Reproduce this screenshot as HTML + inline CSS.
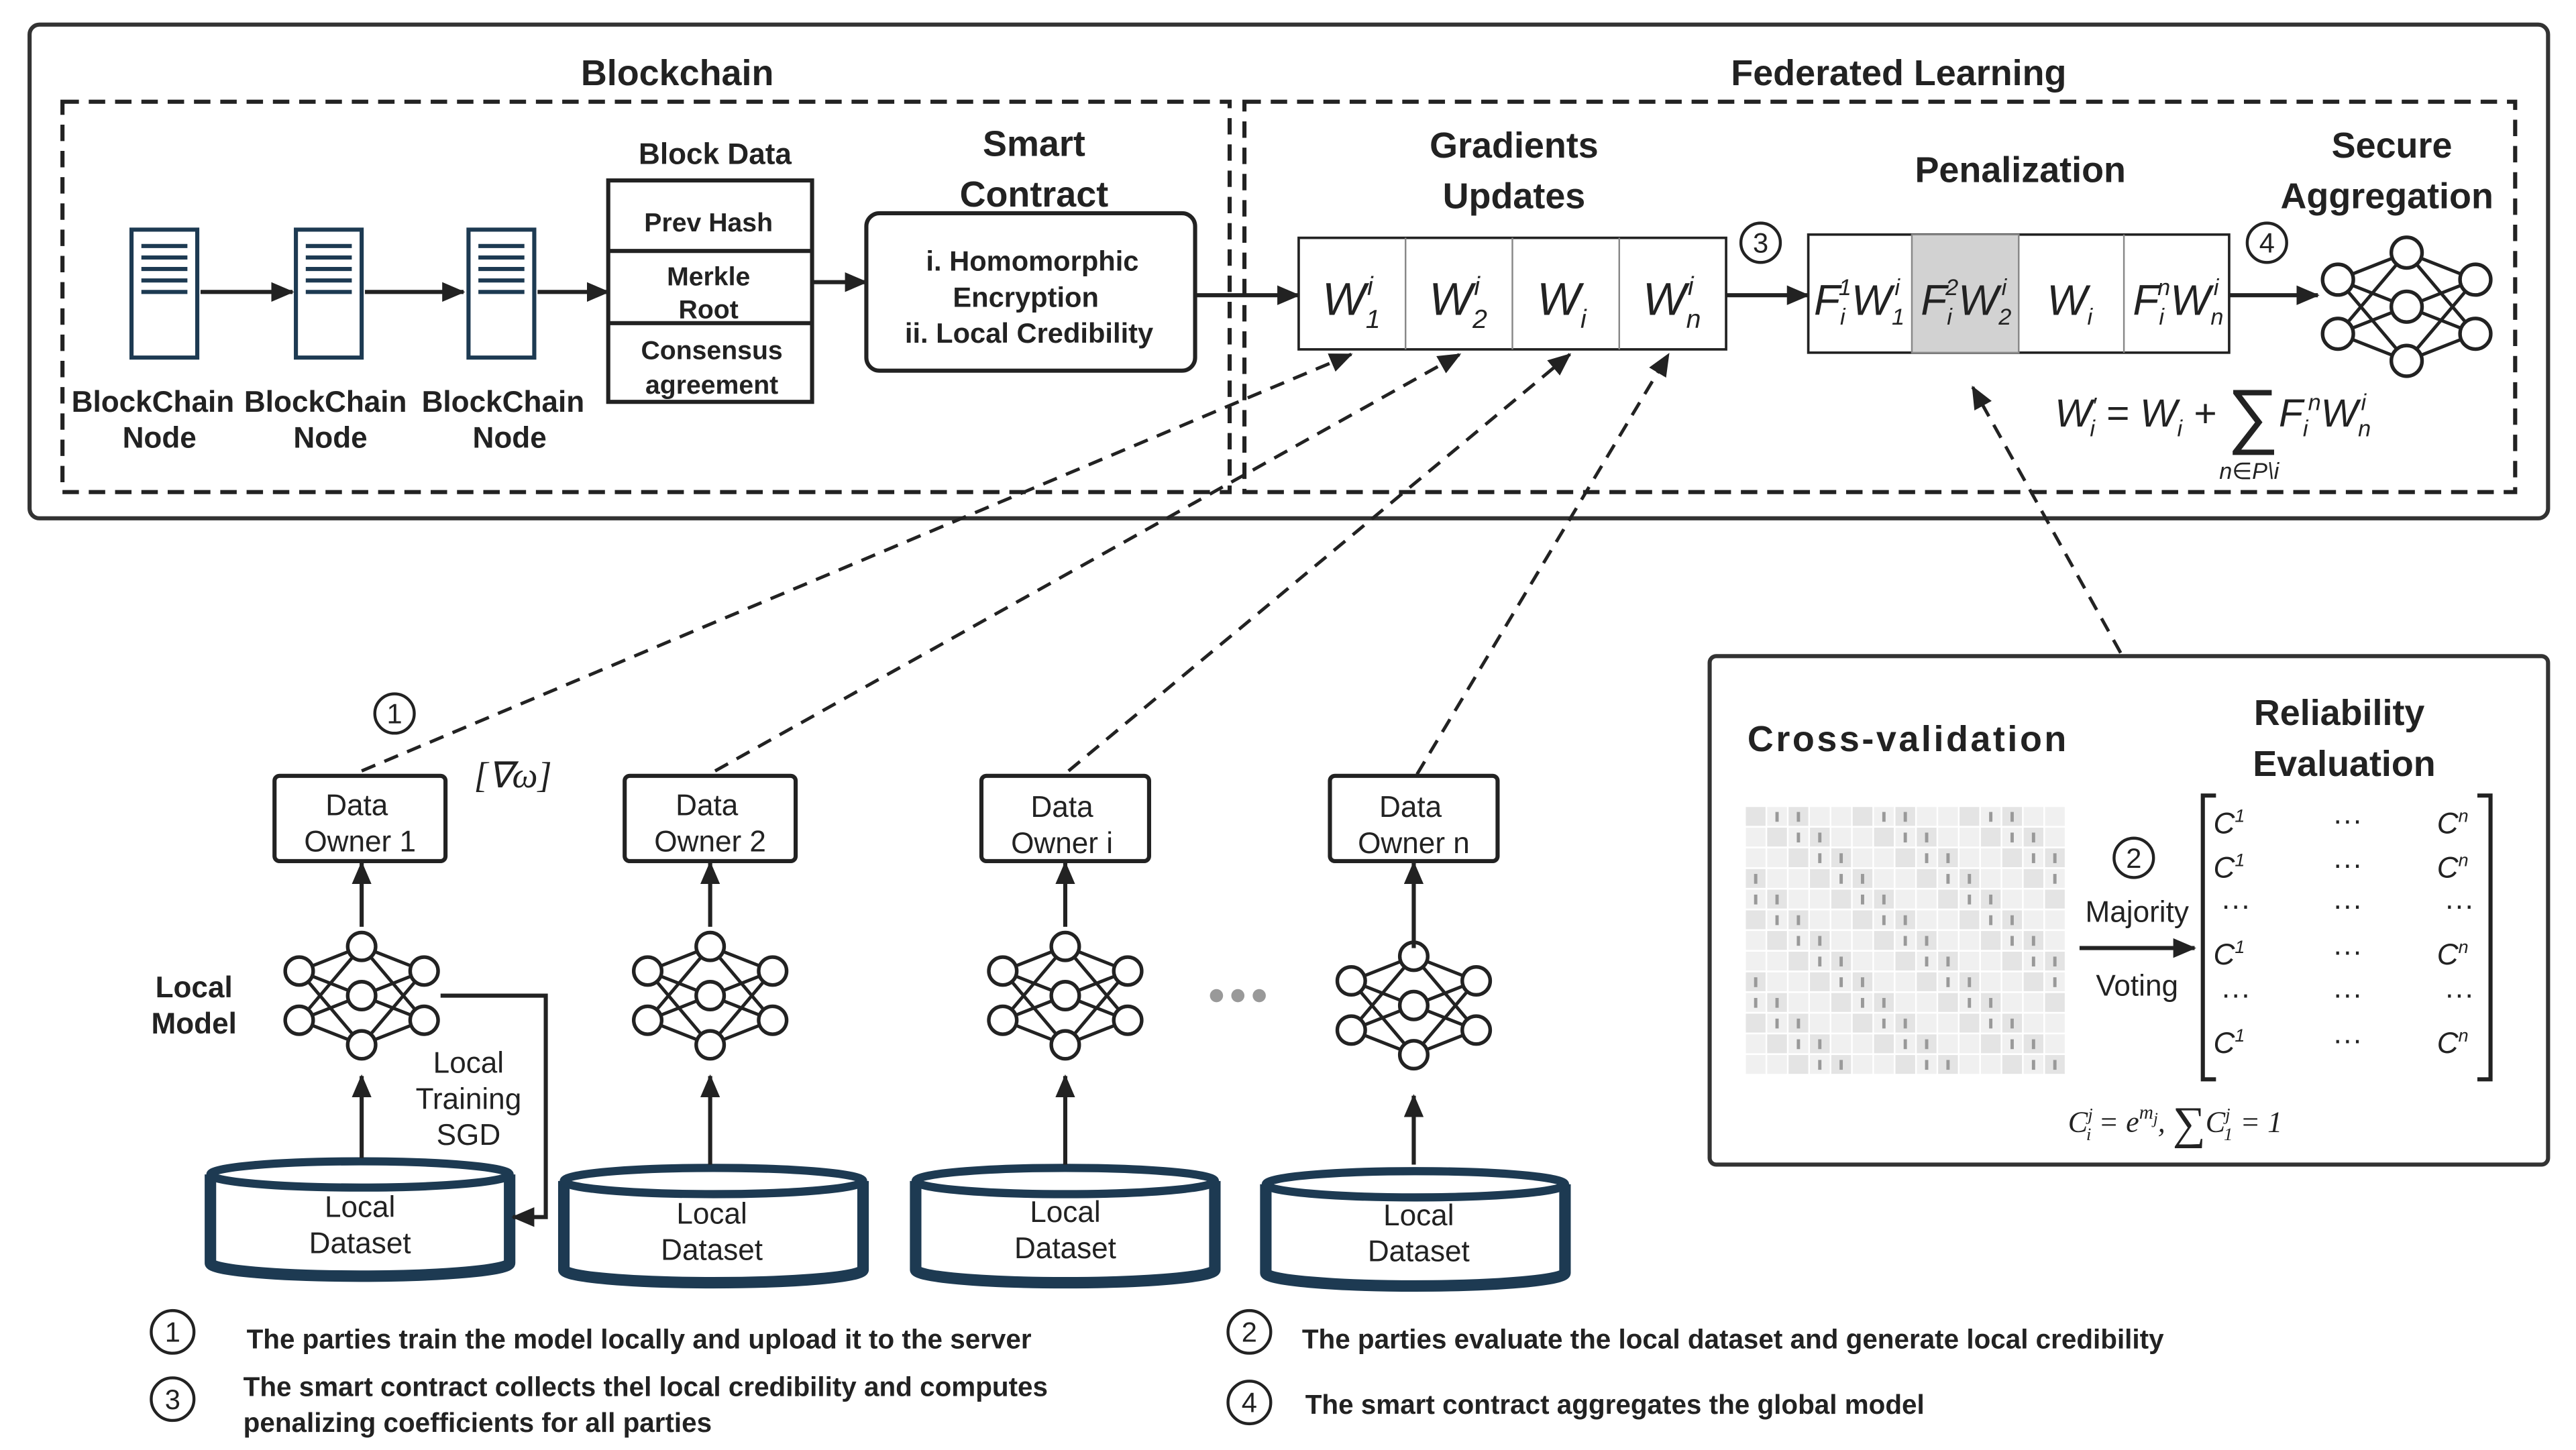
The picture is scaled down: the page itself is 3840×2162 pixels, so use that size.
<!DOCTYPE html>
<html><head><meta charset="utf-8"><style>
html,body{margin:0;padding:0;background:#fff}
svg{display:block}
text{font-family:"Liberation Sans","DejaVu Sans",sans-serif;fill:#222}
.b{font-weight:bold}
.m{font-family:"Liberation Serif",serif;font-style:italic}
</style></head><body>
<svg id="s" width="3840" height="2162" viewBox="0 0 1567 884" preserveAspectRatio="none" xmlns="http://www.w3.org/2000/svg">
<defs><marker id="A" markerWidth="14" markerHeight="12" refX="13" refY="6" orient="auto" markerUnits="userSpaceOnUse"><path d="M0,0 L14,6 L0,12 z" fill="#222"/></marker></defs>
<rect x="18" y="15" width="1532" height="301" rx="6" fill="none" stroke="#333" stroke-width="2.5"/>
<rect x="38" y="62" width="710" height="238" fill="none" stroke="#222" stroke-width="2.5" stroke-dasharray="10,6"/>
<rect x="757" y="62" width="773" height="238" fill="none" stroke="#222" stroke-width="2.5" stroke-dasharray="10,6"/>
<text x="412" y="52" font-size="22" class="b" text-anchor="middle">Blockchain</text>
<text x="1155" y="52" font-size="22" class="b" text-anchor="middle">Federated Learning</text>
<g id="srv"></g>
<g stroke="#222" stroke-width="2.5" fill="none">
<line x1="122" y1="178" x2="178" y2="178" marker-end="url(#A)"/>
<line x1="222" y1="178" x2="282" y2="178" marker-end="url(#A)"/>
<line x1="327" y1="178" x2="370" y2="178" marker-end="url(#A)"/>
<line x1="494" y1="172" x2="527" y2="172" marker-end="url(#A)"/>
<line x1="727" y1="180" x2="790" y2="180" marker-end="url(#A)"/>
<line x1="1050" y1="180" x2="1100" y2="180" marker-end="url(#A)"/>
<line x1="1356" y1="180" x2="1410" y2="180" marker-end="url(#A)"/>
</g>
<g font-size="18" class="b" text-anchor="middle">
<text x="93" y="251">BlockChain</text><text x="97" y="273">Node</text>
<text x="198" y="251">BlockChain</text><text x="201" y="273">Node</text>
<text x="306" y="251">BlockChain</text><text x="310" y="273">Node</text>
</g>
<text x="435" y="100" font-size="18" class="b" text-anchor="middle">Block Data</text>
<rect x="370" y="110" width="124" height="135" fill="#fff" stroke="#222" stroke-width="2.5"/>
<line x1="370" y1="153" x2="494" y2="153" stroke="#222" stroke-width="2.5"/>
<line x1="370" y1="197" x2="494" y2="197" stroke="#222" stroke-width="2.5"/>
<g font-size="16" class="b" text-anchor="middle">
<text x="431" y="141">Prev Hash</text><text x="431" y="174">Merkle</text><text x="431" y="194">Root</text>
<text x="433" y="219">Consensus</text><text x="433" y="240">agreement</text></g>
<text x="629" y="95" font-size="22" class="b" text-anchor="middle">Smart</text>
<text x="629" y="126" font-size="22" class="b" text-anchor="middle">Contract</text>
<rect x="527" y="130" width="200" height="96" rx="8" fill="#fff" stroke="#222" stroke-width="2.5"/>
<g font-size="17" class="b" text-anchor="middle"><text x="628" y="165">i. Homomorphic</text><text x="624" y="187">Encryption</text><text x="626" y="209">ii. Local Credibility</text></g>
<text x="921" y="96" font-size="22" class="b" text-anchor="middle">Gradients</text>
<text x="921" y="127" font-size="22" class="b" text-anchor="middle">Updates</text>
<rect x="790" y="145" width="260" height="68" fill="#fff" stroke="#222" stroke-width="1.5"/>
<g stroke="#888" stroke-width="1"><line x1="855" y1="145" x2="855" y2="213"/><line x1="920" y1="145" x2="920" y2="213"/><line x1="985" y1="145" x2="985" y2="213"/></g>
<g font-size="28" class="m" text-anchor="middle">
<text x="822" y="192">W<tspan font-size="16" dy="8">1</tspan><tspan font-size="16" dx="-8" dy="-20">i</tspan></text>
<text x="887" y="192">W<tspan font-size="16" dy="8">2</tspan><tspan font-size="16" dx="-8" dy="-20">i</tspan></text>
<text x="950" y="192">W<tspan font-size="16" dy="8">i</tspan></text>
<text x="1017" y="192">W<tspan font-size="16" dy="8">n</tspan><tspan font-size="16" dx="-8" dy="-20">i</tspan></text></g>
<text x="1229" y="111" font-size="22" class="b" text-anchor="middle">Penalization</text>
<rect x="1100" y="143" width="256" height="72" fill="#fff" stroke="#222" stroke-width="1.5"/>
<rect x="1163" y="143" width="65" height="72" fill="#d2d2d2" stroke="#888"/>
<g stroke="#888"><line x1="1292" y1="143" x2="1292" y2="215"/></g>
<g font-size="26" class="m" text-anchor="middle">
<text x="1131" y="192">F<tspan font-size="14" dy="6">i</tspan><tspan font-size="14" dy="-18" dx="-4">1</tspan><tspan dy="12">W</tspan><tspan font-size="14" dy="6">1</tspan><tspan font-size="14" dy="-18" dx="-6">i</tspan></text>
<text x="1196" y="192">F<tspan font-size="14" dy="6">i</tspan><tspan font-size="14" dy="-18" dx="-4">2</tspan><tspan dy="12">W</tspan><tspan font-size="14" dy="6">2</tspan><tspan font-size="14" dy="-18" dx="-6">i</tspan></text>
<text x="1259" y="192">W<tspan font-size="14" dy="6">i</tspan></text>
<text x="1325" y="192">F<tspan font-size="14" dy="6">i</tspan><tspan font-size="14" dy="-18" dx="-4">n</tspan><tspan dy="12">W</tspan><tspan font-size="14" dy="6">n</tspan><tspan font-size="14" dy="-18" dx="-6">i</tspan></text></g>
<text x="1455" y="96" font-size="22" class="b" text-anchor="middle">Secure</text>
<text x="1452" y="127" font-size="22" class="b" text-anchor="middle">Aggregation</text>
<g font-size="24" class="m"><text x="1250" y="260">W<tspan font-size="14" dy="-8">′</tspan><tspan font-size="14" dy="14" dx="-4">i</tspan><tspan dy="-6"> = W</tspan><tspan font-size="14" dy="6">i</tspan><tspan dy="-6"> + </tspan><tspan font-size="44" font-style="normal" dy="8">∑</tspan><tspan dy="-8">F</tspan><tspan font-size="14" dy="6">i</tspan><tspan font-size="14" dy="-16">n</tspan><tspan dy="10">W</tspan><tspan font-size="14" dy="6">n</tspan><tspan font-size="14" dy="-16" dx="-6">i</tspan></text>
<text x="1350" y="292" font-size="14">n∈P\i</text></g>
<g font-size="18" text-anchor="middle" fill="none" stroke="#222" stroke-width="1.8">
<circle cx="1071" cy="148" r="12"/><circle cx="1379" cy="148" r="12"/><circle cx="240" cy="435" r="12"/><circle cx="1298" cy="523" r="12"/>
<circle cx="105" cy="812" r="13"/><circle cx="105" cy="853" r="13"/><circle cx="760" cy="812" r="13"/><circle cx="760" cy="855" r="13"/></g>
<g font-size="17" text-anchor="middle"><text x="1071" y="154">3</text><text x="1379" y="154">4</text><text x="240" y="441">1</text><text x="1298" y="529">2</text>
<text x="105" y="818">1</text><text x="105" y="859">3</text><text x="760" y="818">2</text><text x="760" y="861">4</text></g>
<g stroke="#222" stroke-width="2" stroke-dasharray="9,6" fill="none">
<line x1="220" y1="470" x2="822" y2="216" marker-end="url(#A)"/>
<line x1="435" y1="470" x2="888" y2="216" marker-end="url(#A)"/>
<line x1="650" y1="470" x2="955" y2="216" marker-end="url(#A)"/>
<line x1="862" y1="472" x2="1015" y2="216" marker-end="url(#A)"/>
<line x1="1290" y1="398" x2="1200" y2="236" marker-end="url(#A)"/>
</g>
<text x="312" y="480" font-size="22" class="m" font-style="normal" text-anchor="middle">[∇ω]</text>
<g fill="#fff" stroke="#222" stroke-width="2.5">
<rect x="167" y="473" width="104" height="52" rx="3"/><rect x="380" y="473" width="104" height="52" rx="3"/>
<rect x="597" y="473" width="102" height="52" rx="3"/><rect x="809" y="473" width="102" height="52" rx="3"/></g>
<g font-size="18" text-anchor="middle">
<text x="217" y="497">Data</text><text x="219" y="519">Owner 1</text>
<text x="430" y="497">Data</text><text x="432" y="519">Owner 2</text>
<text x="646" y="498">Data</text><text x="646" y="520">Owner i</text>
<text x="858" y="498">Data</text><text x="860" y="520">Owner n</text></g>
<g id="nn"></g>
<g id="cyl"></g>
<g stroke="#222" stroke-width="2.5" fill="none">
<line x1="220" y1="565" x2="220" y2="526" marker-end="url(#A)"/><line x1="432" y1="565" x2="432" y2="526" marker-end="url(#A)"/>
<line x1="648" y1="565" x2="648" y2="526" marker-end="url(#A)"/><line x1="860" y1="578" x2="860" y2="526" marker-end="url(#A)"/>
<line x1="220" y1="706" x2="220" y2="656" marker-end="url(#A)"/><line x1="432" y1="710" x2="432" y2="656" marker-end="url(#A)"/>
<line x1="648" y1="710" x2="648" y2="656" marker-end="url(#A)"/><line x1="860" y1="710" x2="860" y2="668" marker-end="url(#A)"/>
<polyline points="268,607 332,607 332,742 312,742" marker-end="url(#A)"/></g>
<text x="118" y="608" font-size="18" class="b" text-anchor="middle">Local</text>
<text x="118" y="630" font-size="18" class="b" text-anchor="middle">Model</text>
<g font-size="18" text-anchor="middle"><text x="285" y="654">Local</text><text x="285" y="676">Training</text><text x="285" y="698">SGD</text></g>
<g fill="#999"><circle cx="740" cy="607" r="4"/><circle cx="753" cy="607" r="4"/><circle cx="766" cy="607" r="4"/></g>
<rect x="1040" y="400" width="510" height="310" rx="4" fill="none" stroke="#333" stroke-width="2.5"/>
<text x="1160" y="458" font-size="22" class="b" text-anchor="middle" textLength="194">Cross-validation</text>
<text x="1423" y="442" font-size="22" class="b" text-anchor="middle">Reliability</text>
<text x="1426" y="473" font-size="22" class="b" text-anchor="middle">Evaluation</text>
<g id="grid"></g>
<text x="1300" y="562" font-size="18" text-anchor="middle">Majority</text>
<text x="1300" y="607" font-size="18" text-anchor="middle">Voting</text>
<line x1="1265" y1="578" x2="1335" y2="578" stroke="#222" stroke-width="2.5" marker-end="url(#A)"/>
<path d="M1348,485 L1340,485 L1340,658 L1348,658 M1507,485 L1515,485 L1515,658 L1507,658" fill="none" stroke="#222" stroke-width="2.5"/>
<g font-size="18" class="m" text-anchor="middle">
<text x="1356" y="508">C<tspan font-size="11" dy="-7">1</tspan></text><text x="1428" y="506" font-style="normal">···</text><text x="1492" y="508">C<tspan font-size="11" dy="-7">n</tspan></text>
<text x="1356" y="535">C<tspan font-size="11" dy="-7">1</tspan></text><text x="1428" y="533" font-style="normal">···</text><text x="1492" y="535">C<tspan font-size="11" dy="-7">n</tspan></text>
<text x="1360" y="558" font-style="normal">···</text><text x="1428" y="558" font-style="normal">···</text><text x="1496" y="558" font-style="normal">···</text>
<text x="1356" y="588">C<tspan font-size="11" dy="-7">1</tspan></text><text x="1428" y="586" font-style="normal">···</text><text x="1492" y="588">C<tspan font-size="11" dy="-7">n</tspan></text>
<text x="1360" y="612" font-style="normal">···</text><text x="1428" y="612" font-style="normal">···</text><text x="1496" y="612" font-style="normal">···</text>
<text x="1356" y="642">C<tspan font-size="11" dy="-7">1</tspan></text><text x="1428" y="640" font-style="normal">···</text><text x="1492" y="642">C<tspan font-size="11" dy="-7">n</tspan></text></g>
<text x="1258" y="690" font-size="18" class="m">C<tspan font-size="11" dy="-7">j</tspan><tspan font-size="11" dy="12" dx="-4">i</tspan><tspan dy="-5"> = e</tspan><tspan font-size="12" dy="-8">m</tspan><tspan font-size="10" dy="3">j</tspan><tspan dy="5">, </tspan><tspan font-size="28" font-style="normal" dy="4">∑</tspan><tspan dy="-4">C</tspan><tspan font-size="11" dy="-7">j</tspan><tspan font-size="11" dy="12" dx="-4">1</tspan><tspan dy="-5"> = 1</tspan></text>
<g font-size="16.5" class="b">
<text x="150" y="822">The parties train the model locally and upload it to the server</text>
<text x="148" y="851">The smart contract collects thel local credibility and computes</text>
<text x="148" y="873">penalizing coefficients for all parties</text>
<text x="792" y="822">The parties evaluate the local dataset and generate local credibility</text>
<text x="794" y="862">The smart contract aggregates the global model</text></g>
</svg>
<script>
var NS="http://www.w3.org/2000/svg";
function el(p,t,a){var e=document.createElementNS(NS,t);for(var k in a)e.setAttribute(k,a[k]);p.appendChild(e);return e;}
var srv=document.getElementById("srv");
[[80,140],[180,140],[285,140]].forEach(function(p){
 el(srv,"rect",{x:p[0],y:p[1],width:40,height:78,fill:"#fff",stroke:"#1d3a52","stroke-width":2.5});
 for(var i=0;i<5;i++)el(srv,"line",{x1:p[0]+6,x2:p[0]+34,y1:p[1]+10+i*7,y2:p[1]+10+i*7,stroke:"#1d3a52","stroke-width":2.5});
});
var nn=document.getElementById("nn");
function net(cx,cy,s){
 var L=[[-38,[-15,15]],[0,[-30,0,30]],[38,[-15,15]]];
 for(var a=0;a<2;a++)L[a][1].forEach(function(y1){L[a+1][1].forEach(function(y2){el(nn,"line",{x1:cx+L[a][0]*s,y1:cy+y1*s,x2:cx+L[a+1][0]*s,y2:cy+y2*s,stroke:"#222","stroke-width":2});});});
 L.forEach(function(l){l[1].forEach(function(y){el(nn,"circle",{cx:cx+l[0]*s,cy:cy+y*s,r:8.5*s,fill:"#fff",stroke:"#222","stroke-width":2.2});});});
}
net(220,607,1);net(432,607,1);net(648,607,1);net(860,613,1);net(1464,187,1.1);
var cy=document.getElementById("cyl");
[[128,708],[343,712],[557,712],[770,714]].forEach(function(p){
 var w=182,h=62,x=p[0],y=p[1];
 el(cy,"path",{d:"M"+x+","+(y+8)+" L"+x+","+(y+h)+" A"+(w/2)+",8 0 0 0 "+(x+w)+","+(y+h)+" L"+(x+w)+","+(y+8),fill:"#fff",stroke:"#1d3a52","stroke-width":7});
 el(cy,"ellipse",{cx:x+w/2,cy:y+8,rx:w/2,ry:8,fill:"#fff",stroke:"#1d3a52","stroke-width":5});
});
var t=[["Local","Dataset",219,742],["Local","Dataset",433,746],["Local","Dataset",648,745],["Local","Dataset",863,747]];
t.forEach(function(a){var e=el(cy,"text",{x:a[2],y:a[3],"font-size":18,"text-anchor":"middle"});e.textContent=a[0];var f=el(cy,"text",{x:a[2],y:a[3]+22,"font-size":18,"text-anchor":"middle"});f.textContent=a[1];});
var g=document.getElementById("grid");
for(var r=0;r<13;r++)for(var c=0;c<15;c++){var v=((r*7+c*13)%5);el(g,"rect",{x:1062+c*13,y:492+r*12.6,width:12,height:11.5,fill:v<2?"#e4e4e4":"#f0f0f0"});if(v==1||v==3)el(g,"rect",{x:1067+c*13,y:495+r*12.6,width:2,height:6,fill:"#999"});}
</script>
</body></html>
